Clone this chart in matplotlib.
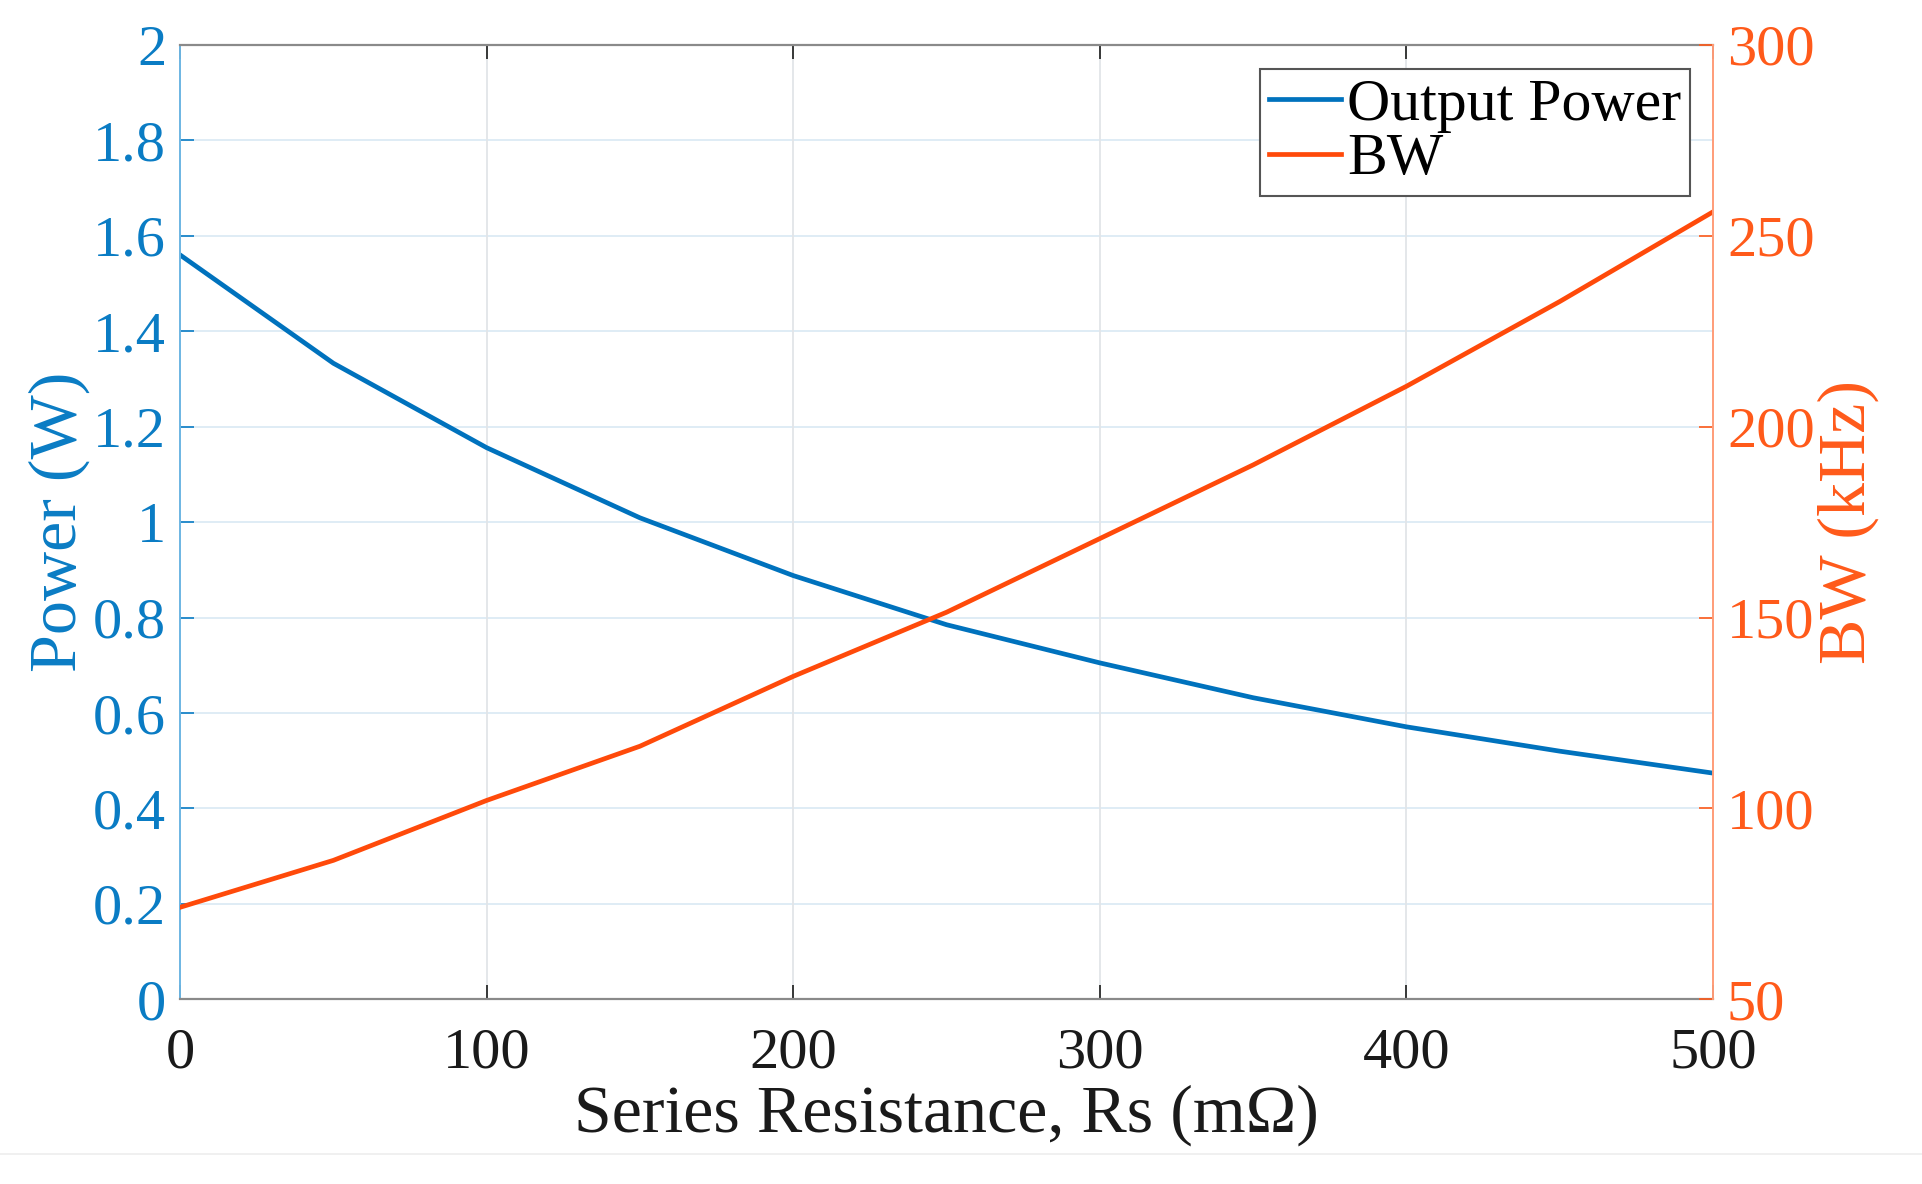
import numpy as np
import matplotlib
matplotlib.use('Agg')
from matplotlib import pyplot as plt
from matplotlib.lines import Line2D

plt.rcParams['font.family'] = ['Liberation Serif', 'DejaVu Serif']

################### data
rs = [0, 50, 100, 150, 200, 250, 300, 350, 400, 450, 500]  # mOhm
power = [1.56, 1.333, 1.156, 1.009, 0.888, 0.785, 0.705, 0.632, 0.571, 0.52, 0.474]  # W
bw = [74.1, 86.4, 102.1, 116.3, 134.6, 151.4, 170.7, 190.0, 210.6, 232.8, 256.3]  # kHz

xticks = [0, 100, 200, 300, 400, 500]
pticks = [0, 0.2, 0.4, 0.6, 0.8, 1, 1.2, 1.4, 1.6, 1.8, 2]
pticklabels = ['0', '0.2', '0.4', '0.6', '0.8', '1', '1.2', '1.4', '1.6', '1.8', '2']
bwticks = [50, 100, 150, 200, 250, 300]

blue = '#0072BD'
blue_txt = '#0A7CC4'
orange = '#FF4A0A'
orange_txt = '#FF5A1A'

#################### figure
fig = plt.figure(figsize=(19.22, 11.84), dpi=100)
ax = fig.add_axes([0.0937, 0.156, 0.7976, 0.806])
ax2 = ax.twinx()

l1, = ax.plot(rs, power, color=blue, lw=3.4, label='Output Power')
l2, = ax2.plot(rs, bw, color=orange, lw=3.4, label='BW')

ax.set_xlim(0, 500)
ax.set_ylim(0, 2)
ax2.set_ylim(50, 300)
ax.set_xticks(xticks)
ax.set_yticks(pticks)
ax.set_yticklabels(pticklabels)
ax2.set_yticks(bwticks)

# grid: horizontal light blue, vertical light gray
for v in pticks[1:-1]:
    ax.axhline(v, color='#DCEBF5', lw=1.3, zorder=0)
for v in xticks[1:-1]:
    ax.axvline(v, color='#E2E5E8', lw=1.3, zorder=0)

ax.tick_params(axis='x', direction='in', length=10, width=1.2, top=True,
               labelsize=42, colors='#1a1a1a', pad=20)
ax.tick_params(axis='y', direction='in', length=10, width=1.2,
               labelsize=42, colors=blue_txt, pad=10)
ax2.tick_params(axis='y', direction='in', length=10, width=1.2,
                labelsize=42, colors=orange_txt, pad=10)

ax.spines['left'].set_color('#6DB6E3')
ax.spines['left'].set_linewidth(1.4)
ax.spines['bottom'].set_color('#8a8a8a')
ax.spines['top'].set_color('#8a8a8a')
ax.spines['bottom'].set_linewidth(1.6)
ax.spines['top'].set_linewidth(1.6)
ax2.spines['right'].set_color('#FF9C78')
ax2.spines['right'].set_linewidth(1.4)
for s in ['left', 'top', 'bottom']:
    ax2.spines[s].set_visible(False)
ax.spines['right'].set_visible(False)

ax.set_xlabel('Series Resistance, Rs (m\u03a9)', fontsize=49, color='#1a1a1a', labelpad=4)
ax.set_ylabel('Power (W)', fontsize=49, color=blue_txt, labelpad=2)
ax2.set_ylabel('BW (kHz)', fontsize=49, color=orange_txt, labelpad=2)

leg = ax2.legend([l1, l2], ['Output Power', 'BW'], loc='upper right',
                 bbox_to_anchor=(0.985, 0.975), fontsize=43, fancybox=False,
                 framealpha=1, edgecolor='#555555', handlelength=1.2,
                 handletextpad=0.1, borderpad=0.15, labelspacing=0.0,
                 borderaxespad=0)
leg.get_frame().set_linewidth(1.5)

# faint page line under the chart
fig.add_artist(Line2D([0, 1], [0.025, 0.025], color='#eeeeee', lw=1.2))

fig.savefig('out.png', dpi=100)
